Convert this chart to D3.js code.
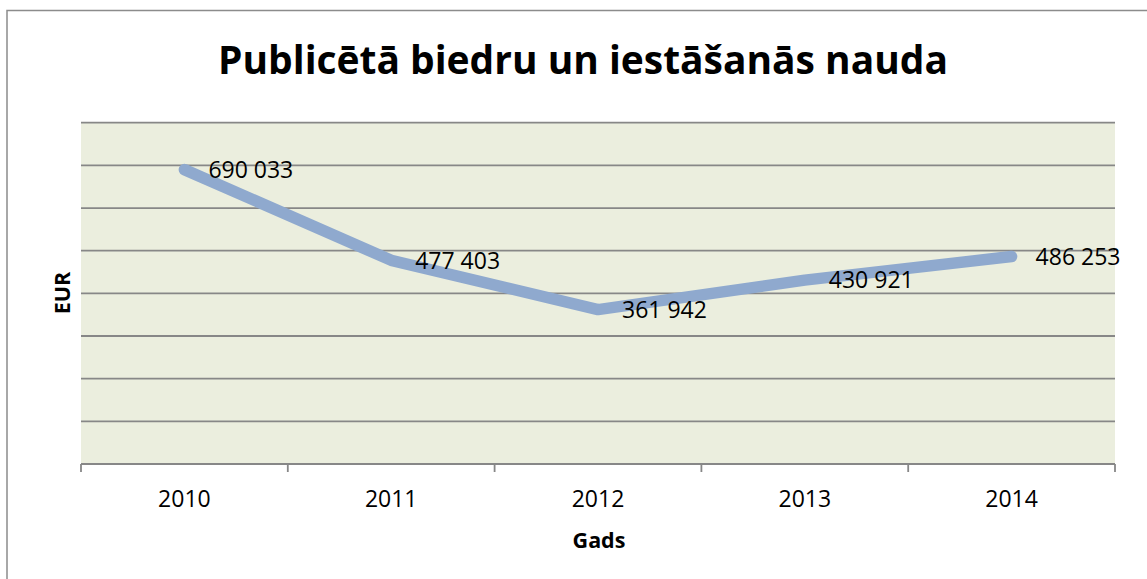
<!DOCTYPE html>
<html>
<head>
<meta charset="utf-8">
<script src="https://cdn.jsdelivr.net/npm/d3@7"></script>
<style>
  html, body { margin: 0; padding: 0; background: #fff; }
  svg { display: block; }
</style>
</head>
<body>
<svg id="chart" width="1147" height="579"></svg>
<script>
const title = "Publicētā biedru un iestāšanās nauda";
const xTitle = "Gads";
const yTitle = "EUR";
const years = ["2010", "2011", "2012", "2013", "2014"];
const values = [690033, 477403, 361942, 430921, 486253];
const labels = ["690 033", "477 403", "361 942", "430 921", "486 253"];
const yGridTicks = [0, 100000, 200000, 300000, 400000, 500000, 600000, 700000, 800000];

const W = 1147, H = 579;
const m = { left: 81, right: 1115, top: 122.7, bottom: 464 };
const font = "'Open Sans', 'Noto Sans', sans-serif";

const svg = d3.select("#chart");

// chart border (right/bottom edges lie outside the picture)
svg.append("rect")
  .attr("x", 7).attr("y", 10.5)
  .attr("width", W + 20).attr("height", H + 20)
  .attr("fill", "#fff")
  .attr("stroke", "#8c8c8c").attr("stroke-width", 1.5);

const x = d3.scaleBand().domain(years).range([m.left, m.right]).paddingInner(0).paddingOuter(0);
const y = d3.scaleLinear().domain([0, 800000]).range([m.bottom, m.top]);

// plot background
svg.append("rect")
  .attr("x", m.left).attr("y", m.top)
  .attr("width", m.right - m.left).attr("height", m.bottom - m.top)
  .attr("fill", "#EBEEDE");

// gridlines
svg.append("g").selectAll("line")
  .data(yGridTicks.slice(1))
  .join("line")
  .attr("x1", m.left).attr("x2", m.right)
  .attr("y1", d => y(d)).attr("y2", d => y(d))
  .attr("stroke", "#878787").attr("stroke-width", 1.8);

// x axis with ticks at category boundaries
const xAxisG = svg.append("g").attr("transform", `translate(0,${m.bottom})`);
xAxisG.append("line")
  .attr("x1", m.left).attr("x2", m.right)
  .attr("y1", 0).attr("y2", 0)
  .attr("stroke", "#878787").attr("stroke-width", 1.8);
const bounds = years.map(d => x(d)).concat([x(years[years.length - 1]) + x.bandwidth()]);
xAxisG.selectAll("line.tick")
  .data(bounds)
  .join("line")
  .attr("class", "tick")
  .attr("x1", d => d).attr("x2", d => d)
  .attr("y1", 0).attr("y2", 8)
  .attr("stroke", "#878787").attr("stroke-width", 1.8);
xAxisG.selectAll("text")
  .data(years)
  .join("text")
  .attr("x", d => x(d) + x.bandwidth() / 2)
  .attr("y", 42.5)
  .attr("text-anchor", "middle")
  .attr("font-family", font)
  .attr("font-size", 23)
  .attr("fill", "#000")
  .text(d => d);

// line
const pts = years.map((d, i) => [x(d) + x.bandwidth() / 2, y(values[i])]);
svg.append("path")
  .attr("d", d3.line()(pts))
  .attr("fill", "none")
  .attr("stroke", "#8FA9CE")
  .attr("stroke-width", 11.5)
  .attr("stroke-linecap", "round")
  .attr("stroke-linejoin", "round");

// data labels
svg.append("g").selectAll("text")
  .data(pts)
  .join("text")
  .attr("x", d => d[0] + 24)
  .attr("y", d => d[1])
  .attr("dy", "0.36em")
  .attr("font-family", font)
  .attr("font-size", 23)
  .attr("fill", "#000")
  .text((d, i) => labels[i]);

// title
const t = svg.append("text")
  .attr("x", 583).attr("y", 74)
  .attr("text-anchor", "middle")
  .attr("font-family", font)
  .attr("font-weight", "bold")
  .attr("font-size", 38)
  .attr("fill", "#000")
  .text(title);
const tw = t.node().getComputedTextLength();
if (tw > 0) t.attr("font-size", 38 * 730 / tw);

// axis titles
svg.append("text")
  .attr("x", 599).attr("y", 548)
  .attr("text-anchor", "middle")
  .attr("font-family", font)
  .attr("font-weight", "bold")
  .attr("font-size", 21.5)
  .attr("fill", "#000")
  .text(xTitle);

svg.append("text")
  .attr("transform", "translate(70,293) rotate(-90)")
  .attr("text-anchor", "middle")
  .attr("font-family", font)
  .attr("font-weight", "bold")
  .attr("font-size", 21.5)
  .attr("fill", "#000")
  .text(yTitle);
</script>
</body>
</html>
